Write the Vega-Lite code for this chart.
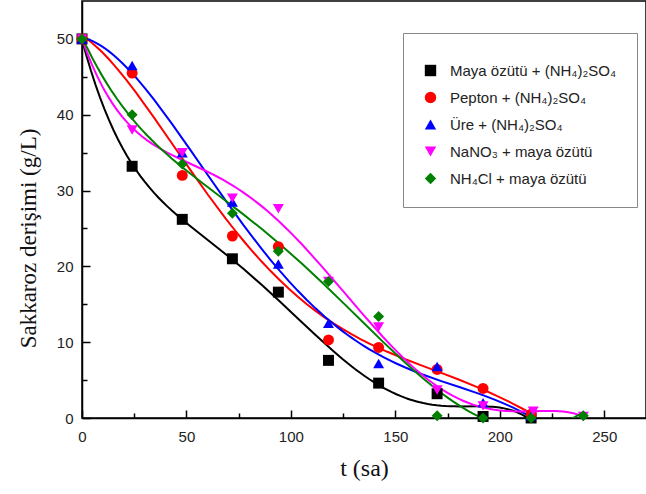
{
  "$schema": "https://vega.github.io/schema/vega-lite/v6.json",
  "width": 564,
  "height": 417,
  "autosize": "none",
  "padding": {"left": 82, "top": 1, "right": 0, "bottom": 76},
  "background": "white",
  "config": {
    "view": {"stroke": "#000", "strokeWidth": 1.5},
    "axis": {
      "grid": false,
      "domainColor": "#000",
      "domainWidth": 1.5,
      "tickColor": "#000",
      "tickWidth": 1.5,
      "labelFlush": false,
      "labelFont": "Liberation Sans",
      "labelFontSize": 15,
      "labelColor": "#222",
      "titleFont": "Liberation Serif",
      "titleFontSize": 23,
      "titleFontWeight": "normal",
      "titleColor": "#111"
    },
    "legend": {
      "orient": "none",
      "legendX": 321,
      "legendY": 32,
      "padding": 20,
      "strokeColor": "#888",
      "fillColor": "white",
      "rowPadding": 11,
      "symbolSize": 130,
      "symbolStrokeWidth": 0,
      "labelFont": "Liberation Sans",
      "labelFontSize": 15,
      "labelColor": "#222",
      "labelOffset": 12,
      "labelLimit": 300,
      "titleFontSize": 6,
      "titlePadding": 4
    }
  },
  "data": {
    "values": [
      {"series": "Maya özütü + (NH₄)₂SO₄", "t": 0, "s": 50},
      {"series": "Maya özütü + (NH₄)₂SO₄", "t": 24, "s": 33.2},
      {"series": "Maya özütü + (NH₄)₂SO₄", "t": 48, "s": 26.2},
      {"series": "Maya özütü + (NH₄)₂SO₄", "t": 72, "s": 21.0},
      {"series": "Maya özütü + (NH₄)₂SO₄", "t": 94, "s": 16.6},
      {"series": "Maya özütü + (NH₄)₂SO₄", "t": 118, "s": 7.6},
      {"series": "Maya özütü + (NH₄)₂SO₄", "t": 142, "s": 4.6},
      {"series": "Maya özütü + (NH₄)₂SO₄", "t": 170, "s": 3.2},
      {"series": "Maya özütü + (NH₄)₂SO₄", "t": 192, "s": 0.2},
      {"series": "Maya özütü + (NH₄)₂SO₄", "t": 215, "s": 0.0},
      {"series": "Pepton + (NH₄)₂SO₄", "t": 0, "s": 50},
      {"series": "Pepton + (NH₄)₂SO₄", "t": 24, "s": 45.5},
      {"series": "Pepton + (NH₄)₂SO₄", "t": 48, "s": 32.0},
      {"series": "Pepton + (NH₄)₂SO₄", "t": 72, "s": 24.0},
      {"series": "Pepton + (NH₄)₂SO₄", "t": 94, "s": 22.6},
      {"series": "Pepton + (NH₄)₂SO₄", "t": 118, "s": 10.3},
      {"series": "Pepton + (NH₄)₂SO₄", "t": 142, "s": 9.3},
      {"series": "Pepton + (NH₄)₂SO₄", "t": 170, "s": 6.4},
      {"series": "Pepton + (NH₄)₂SO₄", "t": 192, "s": 3.9},
      {"series": "Pepton + (NH₄)₂SO₄", "t": 215, "s": 0.5},
      {"series": "Üre + (NH₄)₂SO₄", "t": 0, "s": 50},
      {"series": "Üre + (NH₄)₂SO₄", "t": 24, "s": 46.5},
      {"series": "Üre + (NH₄)₂SO₄", "t": 48, "s": 35.0},
      {"series": "Üre + (NH₄)₂SO₄", "t": 72, "s": 28.5},
      {"series": "Üre + (NH₄)₂SO₄", "t": 94, "s": 20.3},
      {"series": "Üre + (NH₄)₂SO₄", "t": 118, "s": 12.5},
      {"series": "Üre + (NH₄)₂SO₄", "t": 142, "s": 7.2},
      {"series": "Üre + (NH₄)₂SO₄", "t": 170, "s": 6.8},
      {"series": "Üre + (NH₄)₂SO₄", "t": 192, "s": 2.0},
      {"series": "Üre + (NH₄)₂SO₄", "t": 215, "s": 0.3},
      {"series": "NaNO₃ + maya özütü", "t": 0, "s": 50},
      {"series": "NaNO₃ + maya özütü", "t": 24, "s": 38.0},
      {"series": "NaNO₃ + maya özütü", "t": 48, "s": 35.0},
      {"series": "NaNO₃ + maya özütü", "t": 72, "s": 29.0},
      {"series": "NaNO₃ + maya özütü", "t": 94, "s": 27.6},
      {"series": "NaNO₃ + maya özütü", "t": 118, "s": 18.0},
      {"series": "NaNO₃ + maya özütü", "t": 142, "s": 12.0},
      {"series": "NaNO₃ + maya özütü", "t": 170, "s": 3.7},
      {"series": "NaNO₃ + maya özütü", "t": 192, "s": 1.6},
      {"series": "NaNO₃ + maya özütü", "t": 216, "s": 0.9},
      {"series": "NaNO₃ + maya özütü", "t": 240, "s": 0.2},
      {"series": "NH₄Cl + maya özütü", "t": 0, "s": 50},
      {"series": "NH₄Cl + maya özütü", "t": 24, "s": 40.0},
      {"series": "NH₄Cl + maya özütü", "t": 48, "s": 33.5},
      {"series": "NH₄Cl + maya özütü", "t": 72, "s": 27.0},
      {"series": "NH₄Cl + maya özütü", "t": 94, "s": 22.0},
      {"series": "NH₄Cl + maya özütü", "t": 118, "s": 18.0},
      {"series": "NH₄Cl + maya özütü", "t": 142, "s": 13.4},
      {"series": "NH₄Cl + maya özütü", "t": 170, "s": 0.3},
      {"series": "NH₄Cl + maya özütü", "t": 192, "s": 0.0},
      {"series": "NH₄Cl + maya özütü", "t": 215, "s": 0.0},
      {"series": "NH₄Cl + maya özütü", "t": 240, "s": 0.3}
    ]
  },
  "encoding": {
    "x": {
      "field": "t", "type": "quantitative",
      "scale": {"domain": [0, 270], "nice": false},
      "axis": {
        "title": "t (sa)",
        "titleFont": "Liberation Serif",
        "titleFontSize": 24,
        "values": [0, 25, 50, 75, 100, 125, 150, 175, 200, 225, 250],
        "labelExpr": "datum.value % 50 === 0 ? datum.label : ''",
        "tickSize": {"condition": {"test": "datum.value % 50 === 0", "value": -8}, "value": -5},
        "labelPadding": 19,
        "titlePadding": 12
      }
    },
    "y": {
      "field": "s", "type": "quantitative",
      "scale": {"domain": [0, 55], "nice": false},
      "axis": {
        "title": "Sakkaroz derişimi (g/L)",
        "titleFont": "Liberation Serif",
        "values": [0, 5, 10, 15, 20, 25, 30, 35, 40, 45, 50],
        "labelExpr": "datum.value % 10 === 0 ? datum.label : ''",
        "tickSize": {"condition": {"test": "datum.value % 10 === 0", "value": -8}, "value": -5},
        "labelPadding": 17,
        "titleY": 237,
        "titleX": -54,
        "titleBaseline": "middle"
      }
    }
  },
  "layer": [
    {
      "transform": [
        {"regression": "s", "on": "t", "groupby": ["series"], "method": "poly", "order": 5}
      ],
      "mark": {"type": "line", "strokeWidth": 2, "clip": true},
      "encoding": {
        "color": {
          "field": "series", "type": "nominal",
          "scale": {
            "domain": ["Maya özütü + (NH₄)₂SO₄", "Pepton + (NH₄)₂SO₄", "Üre + (NH₄)₂SO₄", "NaNO₃ + maya özütü", "NH₄Cl + maya özütü"],
            "range": ["#000000", "#ff0000", "#0000ff", "#ff00ff", "#008000"]
          },
          "legend": {"title": " "}
        }
      }
    },
    {
      "mark": {"type": "point", "filled": true, "opacity": 1, "size": 120},
      "encoding": {
        "color": {
          "field": "series", "type": "nominal",
          "scale": {
            "domain": ["Maya özütü + (NH₄)₂SO₄", "Pepton + (NH₄)₂SO₄", "Üre + (NH₄)₂SO₄", "NaNO₃ + maya özütü", "NH₄Cl + maya özütü"],
            "range": ["#000000", "#ff0000", "#0000ff", "#ff00ff", "#008000"]
          },
          "legend": {"title": " "}
        },
        "shape": {
          "field": "series", "type": "nominal",
          "scale": {
            "domain": ["Maya özütü + (NH₄)₂SO₄", "Pepton + (NH₄)₂SO₄", "Üre + (NH₄)₂SO₄", "NaNO₃ + maya özütü", "NH₄Cl + maya özütü"],
            "range": ["square", "circle", "triangle-up", "triangle-down", "diamond"]
          },
          "legend": {"title": " "}
        }
      }
    }
  ]
}
